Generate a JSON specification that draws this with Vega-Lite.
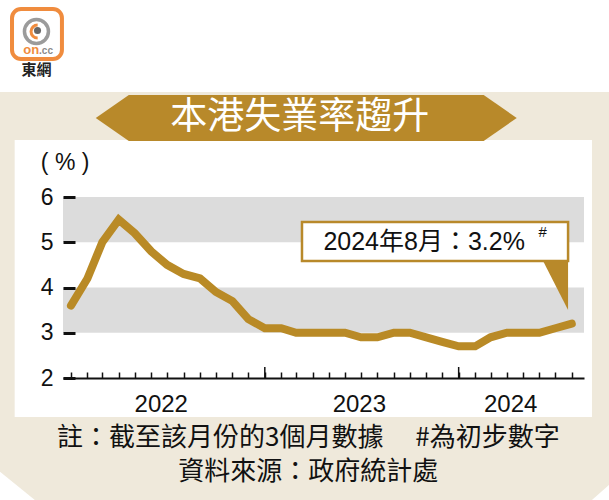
{
  "$schema": "https://vega.github.io/schema/vega-lite/v6.json",
  "width": 521,
  "height": 181,
  "autosize": {"type": "none"},
  "padding": {"left": 63, "top": 197, "right": 25, "bottom": 122},
  "background": "#EFE9DB",
  "config": {"view": {"stroke": null}, "font": "Liberation Sans"},
  "datasets": {
    "rates": [
      {"date": "2022-01-01", "rate": 3.6},
      {"date": "2022-02-01", "rate": 4.2},
      {"date": "2022-03-01", "rate": 5.0},
      {"date": "2022-04-01", "rate": 5.5},
      {"date": "2022-05-01", "rate": 5.2},
      {"date": "2022-06-01", "rate": 4.8},
      {"date": "2022-07-01", "rate": 4.5},
      {"date": "2022-08-01", "rate": 4.3},
      {"date": "2022-09-01", "rate": 4.2},
      {"date": "2022-10-01", "rate": 3.9},
      {"date": "2022-11-01", "rate": 3.7},
      {"date": "2022-12-01", "rate": 3.3},
      {"date": "2023-01-01", "rate": 3.1},
      {"date": "2023-02-01", "rate": 3.1},
      {"date": "2023-03-01", "rate": 3.0},
      {"date": "2023-04-01", "rate": 3.0},
      {"date": "2023-05-01", "rate": 3.0},
      {"date": "2023-06-01", "rate": 3.0},
      {"date": "2023-07-01", "rate": 2.9},
      {"date": "2023-08-01", "rate": 2.9},
      {"date": "2023-09-01", "rate": 3.0},
      {"date": "2023-10-01", "rate": 3.0},
      {"date": "2023-11-01", "rate": 2.9},
      {"date": "2023-12-01", "rate": 2.8},
      {"date": "2024-01-01", "rate": 2.7},
      {"date": "2024-02-01", "rate": 2.7},
      {"date": "2024-03-01", "rate": 2.9},
      {"date": "2024-04-01", "rate": 3.0},
      {"date": "2024-05-01", "rate": 3.0},
      {"date": "2024-06-01", "rate": 3.0},
      {"date": "2024-07-01", "rate": 3.1},
      {"date": "2024-08-01", "rate": 3.2}
    ],
    "bands": [{"lo": 3, "hi": 4}, {"lo": 5, "hi": 6}]
  },
  "layer": [
    {
      "data": {"values": [{}]},
      "mark": {"type": "rect", "color": "#FFFFFF"},
      "encoding": {
        "x": {"datum": {"year": 2021, "month": 6, "date": 1, "utc": true}, "type": "temporal", "scale": {"type": "utc", "domain": [{"year": 2021, "month": 12, "date": 17, "utc": true}, {"year": 2024, "month": 8, "date": 24, "utc": true}], "nice": false}},
        "x2": {"datum": {"year": 2024, "month": 12, "date": 31, "utc": true}},
        "y": {"datum": 10.6, "type": "quantitative", "scale": {"domain": [2, 6], "nice": false, "zero": false}},
        "y2": {"datum": 8.32}
      }
    },
    {
      "data": {"values": [{}]},
      "mark": {"type": "rect", "color": "#FFFFFF"},
      "encoding": {
        "x": {"datum": {"year": 2021, "month": 9, "date": 17, "utc": true}, "type": "temporal", "scale": {"type": "utc", "domain": [{"year": 2021, "month": 12, "date": 17, "utc": true}, {"year": 2024, "month": 8, "date": 24, "utc": true}], "nice": false}},
        "x2": {"datum": {"year": 2024, "month": 9, "date": 8, "utc": true}},
        "y": {"datum": 7.26, "type": "quantitative", "scale": {"domain": [2, 6], "nice": false, "zero": false}},
        "y2": {"datum": 1.138}
      }
    },
    {
      "data": {"values": [{}]},
      "mark": {"type": "point", "shape": "M -0.3 -0.8 L 0 -0.8 L 0.986 0 L 0.986 0.3 L -0.3 0.3 Z", "size": 4900, "filled": true, "color": "#FFFFFF", "opacity": 1, "strokeWidth": 0},
      "encoding": {
        "x": {"datum": {"year": 2021, "month": 8, "date": 21, "utc": true}, "type": "temporal", "scale": {"type": "utc", "domain": [{"year": 2021, "month": 12, "date": 17, "utc": true}, {"year": 2024, "month": 8, "date": 24, "utc": true}], "nice": false}},
        "y": {"datum": -0.696, "type": "quantitative", "scale": {"domain": [2, 6], "nice": false, "zero": false}}
      }
    },
    {
      "data": {"values": [{}]},
      "mark": {"type": "point", "shape": "M 0.3 -0.43 L 0 -0.43 L -0.486 0 L -0.486 0.3 L 0.3 0.3 Z", "size": 4900, "filled": true, "color": "#FFFFFF", "opacity": 1, "strokeWidth": 0},
      "encoding": {
        "x": {"datum": {"year": 2024, "month": 10, "date": 10, "utc": true}, "type": "temporal", "scale": {"type": "utc", "domain": [{"year": 2021, "month": 12, "date": 17, "utc": true}, {"year": 2024, "month": 8, "date": 24, "utc": true}], "nice": false}},
        "y": {"datum": -0.696, "type": "quantitative", "scale": {"domain": [2, 6], "nice": false, "zero": false}}
      }
    },
    {
      "data": {"values": [{}]},
      "mark": {"type": "rect", "fill": "#FFFFFF", "stroke": "#F08C3E", "strokeWidth": 4, "cornerRadius": 9},
      "encoding": {
        "x": {"datum": {"year": 2021, "month": 9, "date": 12, "utc": true}, "type": "temporal", "scale": {"type": "utc", "domain": [{"year": 2021, "month": 12, "date": 17, "utc": true}, {"year": 2024, "month": 8, "date": 24, "utc": true}], "nice": false}},
        "x2": {"datum": {"year": 2021, "month": 12, "date": 15, "utc": true}},
        "y": {"datum": 10.155, "type": "quantitative", "scale": {"domain": [2, 6], "nice": false, "zero": false}},
        "y2": {"datum": 9.05}
      }
    },
    {
      "data": {"values": [{}]},
      "mark": {"type": "point", "shape": "circle", "size": 576, "filled": false, "color": "#9B9B9B", "strokeWidth": 3.5, "opacity": 1},
      "encoding": {
        "x": {"datum": {"year": 2021, "month": 10, "date": 28, "utc": true}, "type": "temporal", "scale": {"type": "utc", "domain": [{"year": 2021, "month": 12, "date": 17, "utc": true}, {"year": 2024, "month": 8, "date": 24, "utc": true}], "nice": false}},
        "y": {"datum": 9.657, "type": "quantitative", "scale": {"domain": [2, 6], "nice": false, "zero": false}}
      }
    },
    {
      "data": {"values": [{}]},
      "mark": {"type": "point", "shape": "M 0.1 -0.55 A 0.55 0.55 0 0 0 0.1 0.55", "size": 576, "filled": false, "color": "#F08C3E", "strokeWidth": 3, "opacity": 1},
      "encoding": {
        "x": {"datum": {"year": 2021, "month": 10, "date": 28, "utc": true}, "type": "temporal", "scale": {"type": "utc", "domain": [{"year": 2021, "month": 12, "date": 17, "utc": true}, {"year": 2024, "month": 8, "date": 24, "utc": true}], "nice": false}},
        "y": {"datum": 9.657, "type": "quantitative", "scale": {"domain": [2, 6], "nice": false, "zero": false}}
      }
    },
    {
      "data": {"values": [{}]},
      "mark": {"type": "point", "shape": "circle", "size": 50, "filled": true, "color": "#666666", "opacity": 1},
      "encoding": {
        "x": {"datum": {"year": 2021, "month": 10, "date": 30, "utc": true}, "type": "temporal", "scale": {"type": "utc", "domain": [{"year": 2021, "month": 12, "date": 17, "utc": true}, {"year": 2024, "month": 8, "date": 24, "utc": true}], "nice": false}},
        "y": {"datum": 9.68, "type": "quantitative", "scale": {"domain": [2, 6], "nice": false, "zero": false}}
      }
    },
    {
      "data": {"values": [{}]},
      "mark": {"type": "text", "text": "on", "fontSize": 13, "fontWeight": "bold", "color": "#F08C3E", "align": "center", "baseline": "middle", "font": "Liberation Sans"},
      "encoding": {
        "x": {"datum": {"year": 2021, "month": 10, "date": 18, "utc": true}, "type": "temporal", "scale": {"type": "utc", "domain": [{"year": 2021, "month": 12, "date": 17, "utc": true}, {"year": 2024, "month": 8, "date": 24, "utc": true}], "nice": false}},
        "y": {"datum": 9.249, "type": "quantitative", "scale": {"domain": [2, 6], "nice": false, "zero": false}}
      }
    },
    {
      "data": {"values": [{}]},
      "mark": {"type": "text", "text": ".cc", "fontSize": 10, "fontWeight": "bold", "color": "#8A8A8A", "align": "center", "baseline": "middle", "font": "Liberation Sans"},
      "encoding": {
        "x": {"datum": {"year": 2021, "month": 11, "date": 15, "utc": true}, "type": "temporal", "scale": {"type": "utc", "domain": [{"year": 2021, "month": 12, "date": 17, "utc": true}, {"year": 2024, "month": 8, "date": 24, "utc": true}], "nice": false}},
        "y": {"datum": 9.227, "type": "quantitative", "scale": {"domain": [2, 6], "nice": false, "zero": false}}
      }
    },
    {
      "data": {"values": [{}]},
      "mark": {"type": "text", "text": "東網", "fontSize": 15, "fontWeight": "bold", "color": "#222222", "align": "center", "baseline": "middle", "font": "Noto Sans CJK TC"},
      "encoding": {
        "x": {"datum": {"year": 2021, "month": 10, "date": 28, "utc": true}, "type": "temporal", "scale": {"type": "utc", "domain": [{"year": 2021, "month": 12, "date": 17, "utc": true}, {"year": 2024, "month": 8, "date": 24, "utc": true}], "nice": false}},
        "y": {"datum": 8.807, "type": "quantitative", "scale": {"domain": [2, 6], "nice": false, "zero": false}}
      }
    },
    {
      "data": {"values": [{}]},
      "mark": {"type": "point", "shape": "M -1 0 L -0.843 -0.109 L 0.843 -0.109 L 1 0 L 0.843 0.109 L -0.843 0.109 Z", "size": 177241, "filled": true, "color": "#B8892A", "opacity": 1, "strokeWidth": 0},
      "encoding": {
        "x": {"datum": {"year": 2023, "month": 3, "date": 20, "utc": true}, "type": "temporal", "scale": {"type": "utc", "domain": [{"year": 2021, "month": 12, "date": 17, "utc": true}, {"year": 2024, "month": 8, "date": 24, "utc": true}], "nice": false}},
        "y": {"datum": 7.746, "type": "quantitative", "scale": {"domain": [2, 6], "nice": false, "zero": false}}
      }
    },
    {
      "data": {"values": [{}]},
      "mark": {"type": "text", "text": "本港失業率趨升", "fontSize": 37, "color": "#FFFFFF", "align": "center", "baseline": "middle", "font": "Noto Sans CJK TC"},
      "encoding": {
        "x": {"datum": {"year": 2023, "month": 3, "date": 8, "utc": true}, "type": "temporal", "scale": {"type": "utc", "domain": [{"year": 2021, "month": 12, "date": 17, "utc": true}, {"year": 2024, "month": 8, "date": 24, "utc": true}], "nice": false}},
        "y": {"datum": 7.746, "type": "quantitative", "scale": {"domain": [2, 6], "nice": false, "zero": false}}
      }
    },
    {
      "data": {"name": "bands"},
      "mark": {"type": "rect", "color": "#DCDCDC"},
      "encoding": {
        "y": {"field": "lo", "type": "quantitative", "scale": {"domain": [2, 6], "nice": false, "zero": false}},
        "y2": {"field": "hi"}
      }
    },
    {
      "data": {"values": [{}]},
      "mark": {"type": "text", "text": "( % )", "fontSize": 23, "color": "#111111", "align": "center", "baseline": "middle", "font": "Liberation Sans"},
      "encoding": {
        "x": {"datum": {"year": 2021, "month": 12, "date": 21, "utc": true}, "type": "temporal", "scale": {"type": "utc", "domain": [{"year": 2021, "month": 12, "date": 17, "utc": true}, {"year": 2024, "month": 8, "date": 24, "utc": true}], "nice": false}},
        "y": {"datum": 6.751, "type": "quantitative", "scale": {"domain": [2, 6], "nice": false, "zero": false}}
      }
    },
    {
      "data": {"name": "rates"},
      "mark": {"type": "line", "color": "#B98A26", "strokeWidth": 8, "strokeCap": "round", "strokeJoin": "miter"},
      "encoding": {
        "x": {"field": "date", "type": "temporal", "scale": {"type": "utc", "domain": [{"year": 2021, "month": 12, "date": 17, "utc": true}, {"year": 2024, "month": 8, "date": 24, "utc": true}], "nice": false},
          "axis": {"title": null, "labels": false, "grid": false, "tickCount": {"interval": "month", "step": 1}, "tickSize": -6, "tickWidth": 1.5, "tickColor": "#111111", "domainColor": "#111111", "domainWidth": 2, "zindex": 1}},
        "y": {"field": "rate", "type": "quantitative", "scale": {"domain": [2, 6], "nice": false, "zero": false},
          "axis": {"title": null, "values": [2, 3, 4, 5, 6], "grid": false, "domain": false, "tickSize": 12, "tickWidth": 3, "tickColor": "#111111", "offset": -12, "labelPadding": 10, "labelFontSize": 23, "labelColor": "#111111", "labelFont": "Liberation Sans", "zindex": 1}}
      }
    },
    {
      "data": {"values": [{}]},
      "mark": {"type": "rule", "color": "#111111", "strokeWidth": 1.5},
      "encoding": {
        "x": {"datum": {"year": 2023, "month": 1, "date": 1, "utc": true}, "type": "temporal", "scale": {"type": "utc", "domain": [{"year": 2021, "month": 12, "date": 17, "utc": true}, {"year": 2024, "month": 8, "date": 24, "utc": true}], "nice": false}},
        "y": {"datum": 2, "type": "quantitative", "scale": {"domain": [2, 6], "nice": false, "zero": false}},
        "y2": {"datum": 2.243}
      }
    },
    {
      "data": {"values": [{}]},
      "mark": {"type": "rule", "color": "#111111", "strokeWidth": 1.5},
      "encoding": {
        "x": {"datum": {"year": 2024, "month": 1, "date": 1, "utc": true}, "type": "temporal", "scale": {"type": "utc", "domain": [{"year": 2021, "month": 12, "date": 17, "utc": true}, {"year": 2024, "month": 8, "date": 24, "utc": true}], "nice": false}},
        "y": {"datum": 2, "type": "quantitative", "scale": {"domain": [2, 6], "nice": false, "zero": false}},
        "y2": {"datum": 2.243}
      }
    },
    {
      "data": {"values": [{}]},
      "mark": {"type": "rect", "fill": "#FFFFFF", "stroke": "#B8892A", "strokeWidth": 2.5},
      "encoding": {
        "x": {"datum": {"year": 2023, "month": 3, "date": 12, "utc": true}, "type": "temporal", "scale": {"type": "utc", "domain": [{"year": 2021, "month": 12, "date": 17, "utc": true}, {"year": 2024, "month": 8, "date": 24, "utc": true}], "nice": false}},
        "x2": {"datum": {"year": 2024, "month": 7, "date": 25, "utc": true}},
        "y": {"datum": 5.448, "type": "quantitative", "scale": {"domain": [2, 6], "nice": false, "zero": false}},
        "y2": {"datum": 4.586}
      }
    },
    {
      "data": {"values": [{}]},
      "mark": {"type": "point", "shape": "M -1.02 -1 L 0 -1 L 0 1 Z", "size": 2401, "filled": true, "color": "#B8892A", "opacity": 1, "strokeWidth": 0},
      "encoding": {
        "x": {"datum": {"year": 2024, "month": 7, "date": 25, "utc": true}, "type": "temporal", "scale": {"type": "utc", "domain": [{"year": 2021, "month": 12, "date": 17, "utc": true}, {"year": 2024, "month": 8, "date": 24, "utc": true}], "nice": false}},
        "y": {"datum": 4.044, "type": "quantitative", "scale": {"domain": [2, 6], "nice": false, "zero": false}}
      }
    },
    {
      "data": {"values": [{}]},
      "mark": {"type": "text", "text": "2024年8月：3.2%", "fontSize": 25, "color": "#111111", "align": "center", "baseline": "middle", "font": "Liberation Sans, Noto Sans CJK TC"},
      "encoding": {
        "x": {"datum": {"year": 2023, "month": 10, "date": 28, "utc": true}, "type": "temporal", "scale": {"type": "utc", "domain": [{"year": 2021, "month": 12, "date": 17, "utc": true}, {"year": 2024, "month": 8, "date": 24, "utc": true}], "nice": false}},
        "y": {"datum": 5.006, "type": "quantitative", "scale": {"domain": [2, 6], "nice": false, "zero": false}}
      }
    },
    {
      "data": {"values": [{}]},
      "mark": {"type": "text", "text": "#", "fontSize": 15, "color": "#111111", "align": "center", "baseline": "middle", "font": "Liberation Sans"},
      "encoding": {
        "x": {"datum": {"year": 2024, "month": 6, "date": 7, "utc": true}, "type": "temporal", "scale": {"type": "utc", "domain": [{"year": 2021, "month": 12, "date": 17, "utc": true}, {"year": 2024, "month": 8, "date": 24, "utc": true}], "nice": false}},
        "y": {"datum": 5.227, "type": "quantitative", "scale": {"domain": [2, 6], "nice": false, "zero": false}}
      }
    },
    {
      "data": {"values": [{}]},
      "mark": {"type": "text", "text": "2022", "fontSize": 24, "color": "#111111", "align": "center", "baseline": "middle", "font": "Liberation Sans"},
      "encoding": {
        "x": {"datum": {"year": 2022, "month": 6, "date": 20, "utc": true}, "type": "temporal", "scale": {"type": "utc", "domain": [{"year": 2021, "month": 12, "date": 17, "utc": true}, {"year": 2024, "month": 8, "date": 24, "utc": true}], "nice": false}},
        "y": {"datum": 1.403, "type": "quantitative", "scale": {"domain": [2, 6], "nice": false, "zero": false}}
      }
    },
    {
      "data": {"values": [{}]},
      "mark": {"type": "text", "text": "2023", "fontSize": 24, "color": "#111111", "align": "center", "baseline": "middle", "font": "Liberation Sans"},
      "encoding": {
        "x": {"datum": {"year": 2023, "month": 6, "date": 28, "utc": true}, "type": "temporal", "scale": {"type": "utc", "domain": [{"year": 2021, "month": 12, "date": 17, "utc": true}, {"year": 2024, "month": 8, "date": 24, "utc": true}], "nice": false}},
        "y": {"datum": 1.403, "type": "quantitative", "scale": {"domain": [2, 6], "nice": false, "zero": false}}
      }
    },
    {
      "data": {"values": [{}]},
      "mark": {"type": "text", "text": "2024", "fontSize": 24, "color": "#111111", "align": "center", "baseline": "middle", "font": "Liberation Sans"},
      "encoding": {
        "x": {"datum": {"year": 2024, "month": 4, "date": 8, "utc": true}, "type": "temporal", "scale": {"type": "utc", "domain": [{"year": 2021, "month": 12, "date": 17, "utc": true}, {"year": 2024, "month": 8, "date": 24, "utc": true}], "nice": false}},
        "y": {"datum": 1.403, "type": "quantitative", "scale": {"domain": [2, 6], "nice": false, "zero": false}}
      }
    },
    {
      "data": {"values": [{}]},
      "mark": {"type": "text", "text": "註：截至該月份的3個月數據　 #為初步數字", "fontSize": 26, "color": "#111111", "align": "center", "baseline": "middle", "font": "Noto Sans CJK TC"},
      "encoding": {
        "x": {"datum": {"year": 2023, "month": 3, "date": 24, "utc": true}, "type": "temporal", "scale": {"type": "utc", "domain": [{"year": 2021, "month": 12, "date": 17, "utc": true}, {"year": 2024, "month": 8, "date": 24, "utc": true}], "nice": false}},
        "y": {"datum": 0.674, "type": "quantitative", "scale": {"domain": [2, 6], "nice": false, "zero": false}}
      }
    },
    {
      "data": {"values": [{}]},
      "mark": {"type": "text", "text": "資料來源：政府統計處", "fontSize": 26, "color": "#111111", "align": "center", "baseline": "middle", "font": "Noto Sans CJK TC"},
      "encoding": {
        "x": {"datum": {"year": 2023, "month": 3, "date": 24, "utc": true}, "type": "temporal", "scale": {"type": "utc", "domain": [{"year": 2021, "month": 12, "date": 17, "utc": true}, {"year": 2024, "month": 8, "date": 24, "utc": true}], "nice": false}},
        "y": {"datum": -0.077, "type": "quantitative", "scale": {"domain": [2, 6], "nice": false, "zero": false}}
      }
    }
  ]
}
